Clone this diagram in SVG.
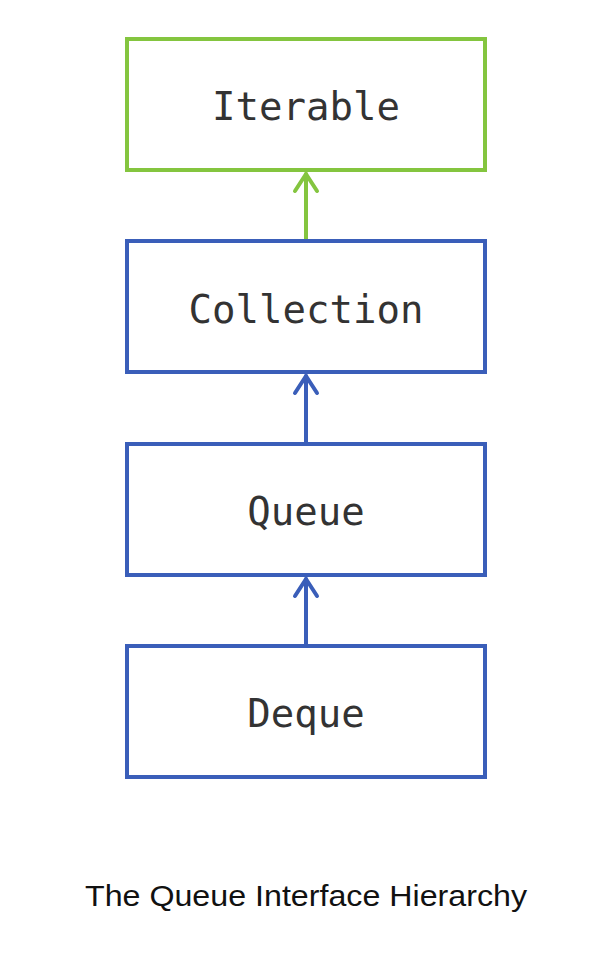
<svg xmlns="http://www.w3.org/2000/svg" width="604" height="966" viewBox="0 0 604 966">
<style>
.box{fill:#fff;stroke-width:4}
.g{stroke:#84c53f}
.b{stroke:#3a5eb9}
.lbl{font-family:"DejaVu Sans Mono",monospace;font-size:39px;fill:#333;text-anchor:middle}
.cap{font-family:"Liberation Sans",Arial,sans-serif;font-size:30px;fill:#111;text-anchor:middle}
.c{fill:none;stroke-width:4;stroke-linecap:round;stroke-linejoin:round}
</style>
<rect width="604" height="966" fill="#fff"/>
<g id="connectors">
<g class="c g"><line x1="306" y1="241" x2="306" y2="174"/><polyline points="295,191 306,174 317,191"/></g>
<g class="c b"><line x1="306" y1="444" x2="306" y2="376"/><polyline points="295,393 306,376 317,393"/></g>
<g class="c b"><line x1="306" y1="646" x2="306" y2="579"/><polyline points="295,596 306,579 317,596"/></g>
</g>
<g id="iterable"><rect class="box g" x="127" y="39" width="358" height="131"/><text class="lbl" x="306" y="120">Iterable</text></g>
<g id="collection"><rect class="box b" x="127" y="241" width="358" height="131"/><text class="lbl" x="306" y="323">Collection</text></g>
<g id="queue"><rect class="box b" x="127" y="444" width="358" height="131"/><text class="lbl" x="306" y="525">Queue</text></g>
<g id="deque"><rect class="box b" x="127" y="646" width="358" height="131"/><text class="lbl" x="306" y="727">Deque</text></g>
<text class="cap" x="306" y="906" textLength="442" lengthAdjust="spacingAndGlyphs">The Queue Interface Hierarchy</text>
</svg>
